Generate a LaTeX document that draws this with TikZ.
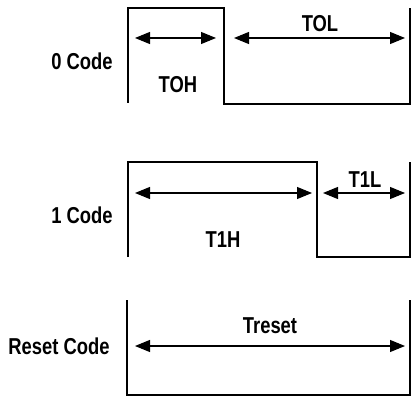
\documentclass[tikz,border=0pt]{standalone}
\usepackage{fontspec}
\setmainfont[FakeStretch=0.8]{Liberation Sans}
\usetikzlibrary{math,arrows.meta}

\tikzset{
  wave/.style={line width=2.4pt},
  span/.style={line width=1.1pt, {Triangle[length=15pt,width=12pt]}-{Triangle[length=15pt,width=12pt]}},
  lbl/.style={anchor=base, inner sep=0pt, font=\fontsize{23}{27}\selectfont\bfseries}
}

\begin{document}
\begin{tikzpicture}[x=1pt,y=-1pt]

\tikzmath{
\xl = 128; \xr = 410;
}

\useasboundingbox (0,0) rectangle (413,396);

% 0 code
\draw[wave] (\xl,103) -- (\xl,8) -- (224,8) -- (224,104) -- (\xr,104) -- (\xr,8);
\coordinate (ohl) at (135,38);
\coordinate (ohr) at (216,38);
\coordinate (oll) at (234,38);
\coordinate (olr) at (405,38);
\draw[span] (ohl) -- (ohr);
\draw[span] (oll) -- (olr);
\node[lbl] (zero) at (82,70) {0 Code};
\node[lbl] (toh) at (178,93) {TOH};
\node[lbl] (tol) at (320,32) {TOL};

% 1 code
\draw[wave] (\xl,257) -- (\xl,162) -- (317,162) -- (317,257) -- (\xr,257) -- (\xr,162);
\coordinate (thl) at (135,193);
\coordinate (thr) at (312,193);
\coordinate (tll) at (323,193);
\coordinate (tlr) at (405,193);
\draw[span] (thl) -- (thr);
\draw[span] (tll) -- (tlr);
\node[lbl] (one) at (82,223) {1 Code};
\node[lbl] (t1h) at (223,247) {T1H};
\node[lbl] (t1l) at (365,187) {T1L};

% reset code
\draw[wave] (\xl-1,300) -- (\xl-1,395) -- (\xr,395) -- (\xr,300);
\coordinate (rl) at (135,346);
\coordinate (rr) at (405,346);
\draw[span] (rl) -- (rr);
\node[lbl] (reset) at (59,354) {Reset Code};
\node[lbl] (treset) at (270,333) {Treset};

\end{tikzpicture}
\end{document}
